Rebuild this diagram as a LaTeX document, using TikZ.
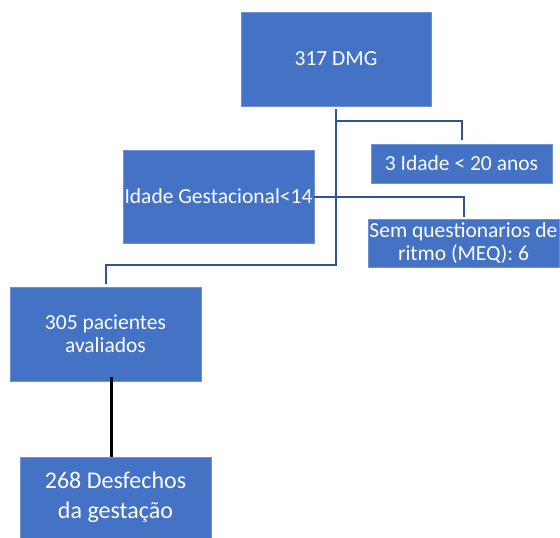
\documentclass[tikz,border=0pt]{standalone}
\usepackage{fontspec}
\setmainfont{Carlito}
\definecolor{boxblue}{HTML}{4472C4}
\definecolor{boxedge}{HTML}{6F92D3}
\definecolor{linkblue}{HTML}{2F5597}
\begin{document}
\begin{tikzpicture}[x=1pt,y=-1pt,
  box/.style={fill=boxblue,draw=boxedge,line width=0.8pt,inner sep=0pt,
    text=white,align=center,font=\fontsize{21.5}{23}\selectfont},
  bigbox/.style={box,font=\fontsize{24}{30}\selectfont},
  link/.style={draw=linkblue,line width=2pt},
  blackline/.style={draw=black,line width=3pt}]
\useasboundingbox (0,0) rectangle (560,538);
\node[box,minimum width=190pt,minimum height=94pt] (dmg) at (336,59) {317 DMG};
\node[box,minimum width=181pt,minimum height=39pt] (age) at (461.5,163.5) {3 Idade < 20 anos};
\node[box,minimum width=191pt,minimum height=93pt] (ig) at (218.5,196.5) {Idade Gestacional<14};
\node[box,minimum width=191pt,minimum height=48pt] (meq) at (463.5,243) {Sem questionarios de\\ritmo (MEQ): 6};
\node[box,minimum width=191pt,minimum height=94pt] (pac) at (105.5,334) {305 pacientes\\avaliados};
\node[bigbox,minimum width=191pt,minimum height=81pt] (des) at (115.5,497.5) {268 Desfechos\\da gesta\c{c}\~ao};
\coordinate (j1) at (336,121);
\coordinate (j2) at (336,265);
\draw[link,shorten <=3pt] (dmg.south) -- (j2) -| ([yshift=3pt]pac.north);
\draw[link] (j1) -| ([yshift=4pt]age.north);
\draw[link] (ig.east) -| ([yshift=2pt]meq.north);
\draw[blackline] ([xshift=5.5pt,yshift=4pt]pac.south) -- ([xshift=-4.5pt]des.north);
\end{tikzpicture}
\end{document}
